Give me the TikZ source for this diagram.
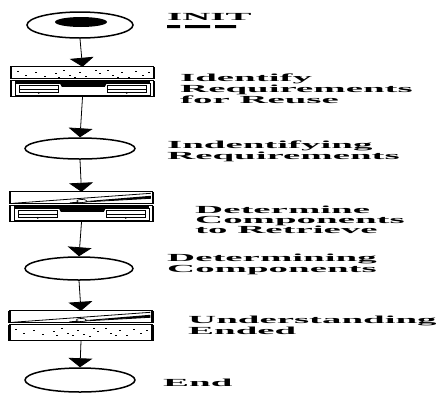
\documentclass[tikz,border=0pt]{standalone}
\usepackage{fontspec}
\usetikzlibrary{shapes.geometric,arrows.meta,calc}
\newfontfamily\lblfont[FakeStretch=3.6]{Liberation Serif Bold}

\begin{document}
\begin{tikzpicture}[x={(1pt,0)},y={(0,-1pt)},
  state/.style={ellipse, draw, line width=1.5pt, inner sep=0pt},
  task/.style={rectangle, minimum width=143pt, minimum height=30pt, inner sep=0pt},
  flow/.style={-{Triangle[width=24pt,length=9pt]}, line width=0.8pt},
  lbl/.style={anchor=north west, align=left, inner sep=0pt,
    font=\lblfont\fontsize{10.8}{9.4}\selectfont},
  frame/.style={line width=1.2pt},
  side/.style={line width=2.6pt},
  % dotted panel, 143 x h
  pics/dotpanel/.style={code={
    \draw[frame, fill=white] (0,0) rectangle (143,#1);
    \draw[side] (0,0) -- (0,#1) (143,0) -- (143,#1);
    \foreach \p in {{6,4},{14,8},{24,5},{33,9},{44,6},{52,3},{58,8},{63,10},
                    {68,5},{74,9},{80,11},{88,6},{96,3},{101,8},{110,5},
                    {117,10},{124,4},{131,8},{137,5},{47,10},{84,3},{106,10}}
      \fill (\p) rectangle ++(2,1.4);
  }},
  % panel with a lifted flap
  pics/lidpanel/.style={code={
    \draw[frame, fill=white] (0,0) rectangle (143,12);
    \draw[side] (0,0) -- (0,12) (143,0) -- (143,12);
    \draw[line width=0.8pt] (3,11.5) -- (141,1.5);
    \draw[line width=0.8pt] (60,11) -- (141,6.5);
    \fill (62,10.5) -- (141,4) -- (141,6.5) -- cycle;
    \draw[line width=0.6pt, fill=white] (72,9.2) ellipse (5pt and 1.6pt);
  }},
  % cabinet panel with two drawers
  pics/cabinet/.style={code={
    \draw[frame, fill=white] (0,0) rectangle (143,16);
    \draw[side] (0,0) -- (0,16) (143,0) -- (143,16);
    \draw[line width=0.5pt] (4,2) rectangle (139,14);
    \fill (4,0.6) rectangle (139,3);
    \fill (48,0.6) -- (97,0.6) -- (94,6) -- (51,6) -- cycle;
    \draw[line width=0.8pt, fill=white] (9,5) rectangle (48,12);
    \draw[line width=0.5pt] (9,8.5) -- (48,8.5);
    \draw[line width=0.8pt, fill=white] (97,5) rectangle (136,12);
    \draw[line width=0.5pt] (97,8.5) -- (136,8.5);
    \fill (28,12) circle (1pt);
    \fill (116,12) circle (1pt);
  }}
]
\useasboundingbox (0,0) rectangle (443,400);

% states
\node[state, minimum width=106pt, minimum height=26pt] (e1) at (80,25) {};
\fill (81,22) ellipse (26pt and 5pt);
\node[state, minimum width=110pt, minimum height=21pt] (e2) at (80,148.5) {};
\node[state, minimum width=108pt, minimum height=23pt] (e3) at (79,268.5) {};
\node[state, minimum width=110pt, minimum height=24pt] (e4) at (80,380) {};

% activities
\node[task] (b1) at (82.5,82) {};
\node[task] (b2) at (81.5,207) {};
\node[task] (b3) at (81,326) {};

\pic at (b1.north west) {dotpanel=12};
\pic at ($(b1.north west)+(0,14)$) {cabinet};
\pic at (b2.north west) {lidpanel};
\pic at ($(b2.north west)+(0,14)$) {cabinet};
\pic at (b3.north west) {lidpanel};
\pic at ($(b3.north west)+(0,14)$) {dotpanel=16};

% flow
\draw[flow] (e1.south) -- (b1.north);
\draw[flow] (b1.south) -- (e2.north);
\draw[flow] (e2.south) -- (b2.north);
\draw[flow] (b2.south) -- (e3.north);
\draw[flow] (e3.south) -- (b3.north);
\draw[flow] (b3.south) -- (e4.north);

% labels
\node[lbl] (t1) at (167,13) {INIT};
\fill (167,25) rectangle (180,28) (185,25) rectangle (210,28) (215,25) rectangle (236,28);
\node[lbl] (t2) at (180,74) {Identify\\Requirements\\for Reuse};
\node[lbl] (t3) at (167,141) {Indentifying\\Requirements};
\node[lbl] (t4) at (195,206) {Determine\\Components\\to Retrieve};
\node[lbl] (t5) at (167,254) {Determining\\Components};
\node[lbl] (t6) at (188,316) {Understanding\\Ended};
\node[lbl] (t7) at (163,379) {End};
\end{tikzpicture}
\end{document}
